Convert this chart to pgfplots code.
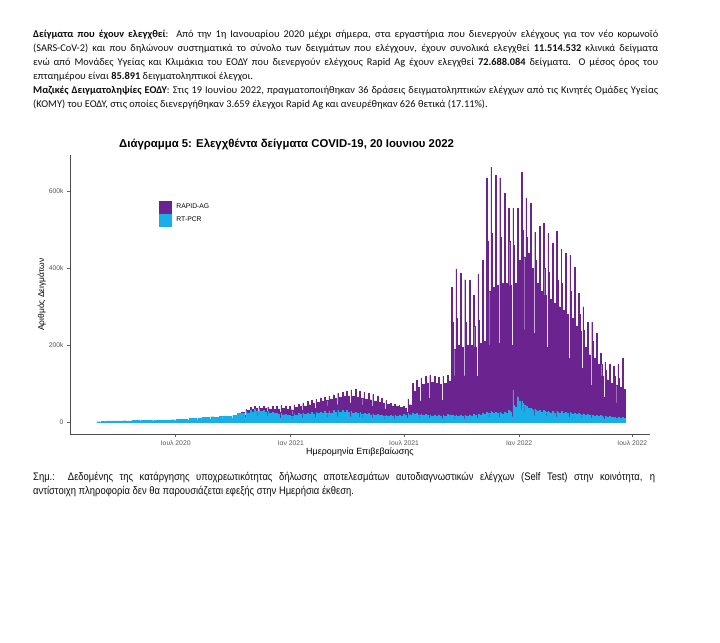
\documentclass[border=0pt]{standalone}
\usepackage{pgfplots}
\pgfplotsset{compat=1.18}
\usepackage{pgfplotstable}
\usepackage{fontspec}
\setmainfont{Carlito}
\newfontfamily\arial{Liberation Sans}
\newfontfamily\narrow[FakeStretch=0.86]{Liberation Sans}
\definecolor{rapid}{HTML}{6A238F}
\definecolor{pcr}{HTML}{19AEE8}
\definecolor{txt}{HTML}{0D0D0D}

% day = days since 1 Jan 2020; values in thousands of samples
% tot = RT-PCR + RAPID-AG, pcr = RT-PCR
\pgfplotstableread{
day pcr tot
56 1.0 0
61 0.6 0
63 1.5 0
68 1.0 0
70 3.0 0
75 2.0 0
77 3.0 0
82 2.0 0
84 3.0 0
89 2.0 0
91 3.2 0
96 2.0 0
98 3.5 0
103 2.2 0
105 3.0 0
110 2.0 0
112 4.0 0
117 2.5 0
119 4.5 0
124 2.8 0
126 4.0 0
131 2.5 0
133 5.0 0
138 3.0 0
140 4.5 0
145 2.8 0
147 5.0 0
152 3.0 0
154 5.0 0
159 3.0 0
161 5.5 0
166 3.3 0
168 5.0 0
173 3.0 0
175 6.0 0
180 3.6 0
182 7.0 0
187 4.2 0
189 8.0 0
194 4.8 0
196 7.5 0
201 4.5 0
203 9.0 0
208 5.4 0
210 10 0
215 6.0 0
217 11 0
222 6.6 0
224 12 0
229 7.2 0
231 13 0
236 7.8 0
238 14 0
243 8.4 0
245 13 0
250 7.8 0
252 15 0
257 9.0 0
259 16 0
264 9.6 0
266 15 0
271 9.0 0
273 17 0
278 10 0
280 22 0
285 13 0
287 23 26
292 13 18
294 28.8 33
295 24 30
299 13.2 25
301 31.2 38
302 26 33
306 14.3 27
308 33.6 40
309 28 35
313 15.4 28
315 33.6 41
316 28 36
320 15.4 28
322 31.2 40
323 26 35
327 14.3 27
329 28.8 39
330 24 34
334 13.2 26
336 26.4 40
337 22 33
341 12.1 25
343 24 42
344 20 34
348 11 25
350 22.8 43
351 19 35
355 10.5 26
357 20.4 42
358 17 33
362 9.4 22
364 18 40
365 15 32
369 8.3 20
371 21.6 45
372 18 38
376 9.9 28
378 24 47
379 20 40
383 11 30
385 24 50
386 20 42
390 11 31
392 24 53
393 20 45
397 11 33
399 25.2 57
400 21 48
404 11.6 35
406 26.4 60
407 22 52
411 12.1 37
413 26.4 63
414 22 55
418 12.1 40
420 27.6 65
421 23 57
425 12.7 42
427 28.8 68
428 24 60
432 13.2 43
434 30 71
435 25 62
439 13.8 45
441 31.2 75
442 26 65
446 14.3 47
448 31.2 78
449 26 66
453 14.3 48
455 30 80
456 25 68
460 13.8 50
462 28.8 84
463 24 66
467 13.2 48
469 26.4 86
470 22 64
474 12.1 46
476 25.2 80
477 21 62
481 11.6 44
483 24 78
484 20 60
488 11 42
490 22.8 75
491 19 58
495 10.5 40
497 21.6 72
498 18 55
502 9.9 38
504 20.4 68
505 17 52
509 9.4 36
511 19.2 62
512 16 50
516 8.8 34
518 18 56
519 15 46
523 8.3 32
525 18 50
526 15 42
530 8.3 30
532 18 46
533 15 40
537 8.3 28
539 19.2 44
540 16 38
544 8.8 27
546 20.4 42
547 17 36
551 9.4 26
553 22.8 60
554 19 45
558 10.5 30
560 24 100
561 20 80
565 11 45
567 22.8 108
568 19 90
572 10.5 55
574 21.6 115
575 18 98
579 9.9 60
581 20.4 120
582 17 102
586 9.4 62
588 19.2 121
589 16 104
593 8.8 60
595 19.2 118
596 16 100
600 8.8 58
602 19.2 116
603 16 98
607 8.8 57
609 19.2 120
610 16 100
614 8.8 60
616 20.4 122
617 17 105
621 9.4 62
623 19.2 350
624 17.6 260
625 16 190
628 8.8 120
630 18 398
631 16.5 270
632 15 200
635 8.3 125
637 18 387
638 16.5 265
639 15 195
642 8.3 120
644 18 370
645 16.5 260
646 15 200
649 8.3 122
651 19.2 368
652 17.6 255
653 16 200
656 8.8 120
658 20.4 330
659 18.7 250
660 17 195
663 9.4 118
665 21.6 385
666 19.8 265
667 18 205
670 9.9 125
672 24 420
673 22 275
674 20 210
677 11 130
679 26.4 635
680 24.2 470
681 22 340
684 12.1 200
686 27.6 663
687 25.3 490
688 23 350
691 12.7 205
693 26.4 642
694 24.2 480
695 22 355
698 12.1 205
700 25.2 635
701 23.1 480
702 21 360
705 11.6 210
707 26.4 595
708 24.2 470
709 22 360
712 12.1 205
714 30 557
715 27.5 470
716 25 355
719 13.8 200
721 83 557
722 44 460
723 40 360
726 22 190
728 66 555
729 60.5 470
730 55 420
733 30 220
735 54 650
736 49.5 500
737 45 430
740 24.8 240
742 42 583
743 38.5 480
744 35 440
747 19.3 250
749 36 570
750 33 450
751 30 400
754 16.5 230
756 33.6 494
757 30.8 420
758 28 360
761 15.4 210
763 31.2 510
764 28.6 410
765 26 340
768 14.3 200
770 30 517
771 27.5 400
772 25 330
775 13.8 195
777 28.8 490
778 26.4 390
779 24 320
782 13.2 190
784 28.8 466
785 26.4 380
786 24 310
789 13.2 185
791 27.6 497
792 25.3 370
793 23 300
796 12.7 180
798 27.6 450
799 25.3 360
800 23 290
803 12.7 170
805 26.4 440
806 24.2 350
807 22 280
810 12.1 165
812 25.2 434
813 23.1 340
814 21 270
817 11.6 160
819 24 403
820 22 320
821 20 250
824 11 150
826 22.8 336
827 20.9 280
828 19 235
831 10.5 140
833 21.6 300
834 19.8 240
835 18 195
838 9.9 110
840 20.4 260
841 18.7 220
842 17 175
845 9.4 95
847 19.2 260
848 17.6 210
849 16 165
852 8.8 90
854 18 230
855 16.5 190
856 15 150
859 8.3 80
861 16.8 180
862 15.4 150
863 14 120
866 7.7 65
868 15.6 156
869 14.3 135
870 13 110
873 7.2 60
875 14.4 150
876 13.2 125
877 12 100
880 6.6 55
882 13.2 145
883 12.1 120
884 11 95
887 6.1 50
889 13.2 150
890 12.1 115
891 11 90
894 6.1 48
896 12 166
897 11 110
898 10 85
900 10 85
}\tests

\begin{document}
\begin{tikzpicture}
\fill[white] (0,0) rectangle (720bp,-643bp);
\begin{scope}[x=1bp,y=-1bp,every node/.style={inner sep=0pt,anchor=base west,text=txt}]
% intro paragraphs
\begin{scope}[every node/.append style={font=\fontsize{10.4}{12}\selectfont}]
\node at (33,37) {\makebox[625bp][s]{\textbf{Δείγματα που έχουν ελεγχθεί}:\ \ Από την 1η Ιανουαρίου 2020 μέχρι σήμερα, στα εργαστήρια που διενεργούν ελέγχους για τον νέο κορωνοϊό}};
\node at (33,51) {\makebox[625bp][s]{(SARS-CoV-2) και που δηλώνουν συστηματικά το σύνολο των δειγμάτων που ελέγχουν, έχουν συνολικά ελεγχθεί \textbf{11.514.532} κλινικά δείγματα}};
\node at (33,65) {\makebox[625bp][s]{ενώ από Μονάδες Υγείας και Κλιμάκια του ΕΟΔΥ που διενεργούν ελέγχους Rapid Ag έχουν ελεγχθεί \textbf{72.688.084} δείγματα.\ \ Ο μέσος όρος του}};
\node at (33,79) {επταημέρου είναι \textbf{85.891} δειγματοληπτικοί έλεγχοι.};
\node at (33,93) {\makebox[625bp][s]{\textbf{Μαζικές Δειγματοληψίες ΕΟΔΥ}: Στις 19 Ιουνίου 2022, πραγματοποιήθηκαν 36 δράσεις δειγματοληπτικών ελέγχων από τις Κινητές Ομάδες Υγείας}};
\node at (33,107) {(ΚΟΜΥ) του ΕΟΔΥ, στις οποίες διενεργήθηκαν 3.659 έλεγχοι Rapid Ag και ανευρέθηκαν 626 θετικά (17.11\%).};
\end{scope}
% footnote
\begin{scope}[every node/.append style={font=\narrow\fontsize{11}{12}\selectfont}]
\node at (33,480) {\makebox[622bp][s]{Σημ.:\ \ Δεδομένης της κατάργησης υποχρεωτικότητας δήλωσης αποτελεσμάτων αυτοδιαγνωστικών ελέγχων (Self Test) στην κοινότητα, η}};
\node at (33,494) {αντίστοιχη πληροφορία δεν θα παρουσιάζεται εφεξής στην Ημερήσια έκθεση.};
\end{scope}
\end{scope}

\begin{axis}[
  at={(70bp,-434bp)}, anchor=south west,
  width=580bp, height=279bp, scale only axis,
  xmin=13, xmax=940.3, ymin=-31.2, ymax=694.4,
  axis x line*=bottom, axis y line*=left,
  axis line style={draw=black!70, line width=0.7bp, -},
  xtick={182,366,547,731,912},
  xticklabels={Ιουλ 2020,Ιαν 2021,Ιουλ 2021,Ιαν 2022,Ιουλ 2022},
  ytick={0,200,400,600}, yticklabels={0,200k,400k,600k},
  tick align=outside, major tick length=3bp,
  major tick style={draw=black!60, line width=0.6bp},
  tick label style={font=\arial\fontsize{6.8}{7}\selectfont, text=black!65},
  title={Διάγραμμα 5: Ελεγχθέντα δείγματα COVID-19, 20 Ιουνιου 2022},
  title style={font=\arial\bfseries\fontsize{11.4}{13}\selectfont, at={(axis description cs:0.0845,1.018)}, anchor=west, yshift=0pt, inner sep=0pt},
  xlabel={Ημερομηνία Επιβεβαίωσης},
  xlabel style={font=\arial\fontsize{9}{10}\selectfont, at={(axis description cs:0.5,-0.0634)}, anchor=center, inner sep=0pt},
  ylabel={Αριθμός Δειγμάτων},
  ylabel style={font=\arial\fontsize{8.5}{10}\selectfont, at={(axis description cs:-0.0488,0.5)}, anchor=center, inner sep=0pt},
  legend style={at={(axis description cs:0.1534,0.836)}, anchor=north west,
    draw=none, fill=none, inner sep=0pt, row sep=0pt,
    font=\arial\fontsize{6.8}{7}\selectfont, nodes={inner sep=0pt},
    /tikz/every odd column/.append style={column sep=5bp}},
  legend cell align=left,
  legend image code/.code={\fill[#1] (0bp,-6.2bp) rectangle (12bp,6.2bp);},
]
\addplot[const plot, fill=rapid, draw=rapid, line width=0.3bp] table[x=day,y=tot] {\tests} \closedcycle;
\addlegendentry{RAPID-AG}
\addplot[const plot, fill=pcr, draw=pcr, line width=0.2bp] table[x=day,y=pcr] {\tests} \closedcycle;
\addlegendentry{RT-PCR}
\end{axis}
\end{tikzpicture}
\end{document}
